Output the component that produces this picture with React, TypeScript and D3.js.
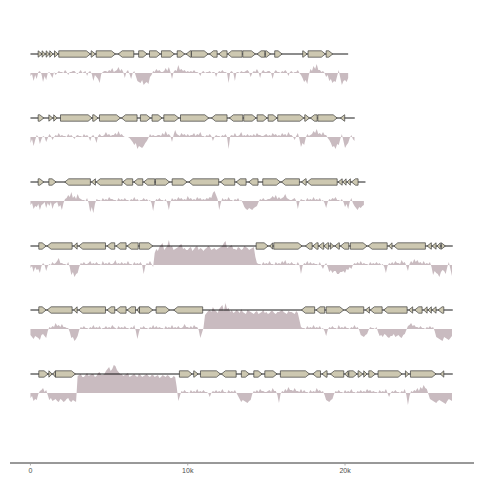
import React from "react";
import * as d3 from "d3";

// sequence lengths (kb)
const trackLengths = [20.2, 20.62, 21.3, 26.85, 26.85, 26.85];
const BIN = 0.1; // kb per GC window

// genes: [start kb, end kb, strand]
const genes1: [number, number, number][] = [
  [0.49, 0.74, 1], [0.74, 0.95, 1], [1.0, 1.21, 1], [1.23, 1.44, 1], [1.53, 1.76, 1],
  [1.8, 3.81, 1], [3.86, 4.13, 1], [4.18, 5.4, 1], [5.58, 6.57, -1], [6.88, 7.42, 1],
  [7.57, 8.26, 1], [8.33, 9.15, 1], [9.33, 9.81, 1], [9.9, 10.22, -1], [10.24, 11.3, 1],
  [11.38, 11.87, -1], [11.97, 12.5, -1], [12.54, 13.46, -1], [13.5, 14.3, 1], [14.41, 14.9, -1],
  [14.94, 15.26, 1], [15.53, 16.0, 1], [17.31, 17.59, 1], [17.65, 18.75, 1], [18.8, 19.22, 1],
];
const genes2: [number, number, number][] = [
  [0.49, 0.85, 1], [1.17, 1.42, 1], [1.48, 1.7, 1], [1.91, 3.92, 1], [3.96, 4.3, 1],
  [4.39, 5.72, 1], [5.79, 6.78, -1], [6.99, 7.63, 1], [7.73, 8.37, 1], [8.48, 9.43, 1],
  [9.54, 11.34, 1], [11.51, 12.5, -1], [12.65, 13.5, -1], [13.56, 14.35, 1], [14.41, 15.05, 1],
  [15.11, 15.68, 1], [15.72, 17.38, 1], [17.44, 17.74, 1], [17.8, 18.23, -1], [18.27, 19.5, 1],
  [19.71, 19.98, -1],
];
const genes3: [number, number, number][] = [
  [0.49, 0.85, 1], [1.17, 1.63, 1], [2.18, 3.81, -1], [3.88, 4.13, -1], [4.18, 5.83, -1],
  [5.87, 6.5, -1], [6.57, 7.14, -1], [7.2, 7.9, -1], [7.95, 8.84, 1], [9.01, 9.96, 1],
  [10.07, 11.97, -1], [12.08, 12.99, -1], [13.08, 13.71, -1], [13.88, 14.47, -1], [14.77, 15.89, 1],
  [15.96, 17.1, -1], [17.23, 17.53, -1], [17.59, 19.5, -1], [19.56, 19.82, -1], [19.86, 20.07, -1],
  [20.13, 20.34, -1], [20.41, 20.83, -1],
];
const genes4: [number, number, number][] = [
  [0.53, 1.0, 1], [1.06, 2.65, -1], [2.75, 2.97, -1], [3.07, 4.77, -1], [4.87, 5.36, -1],
  [5.45, 6.08, -1], [6.15, 6.85, -1], [6.93, 7.78, 1], [14.35, 15.11, 1], [15.22, 15.4, -1],
  [15.47, 17.27, 1], [17.48, 17.91, -1], [17.95, 18.29, -1], [18.33, 18.65, -1], [18.65, 18.96, -1],
  [19.07, 19.28, 1], [19.35, 19.64, -1], [19.71, 20.24, -1], [20.34, 21.4, 1], [21.47, 22.68, -1],
  [22.78, 22.99, -1], [23.1, 25.11, -1], [25.22, 25.49, -1], [25.54, 25.79, -1], [25.85, 26.06, -1],
  [26.13, 26.38, 1],
];
const genes5: [number, number, number][] = [
  [0.53, 1.0, 1], [1.06, 2.65, -1], [2.75, 2.97, -1], [3.07, 4.77, -1], [4.87, 5.36, -1],
  [5.45, 6.08, -1], [6.15, 6.68, -1], [6.78, 6.93, -1], [6.93, 7.78, 1], [7.99, 8.84, 1],
  [9.11, 10.95, -1], [17.23, 18.07, -1], [18.16, 18.71, -1], [18.8, 19.92, 1], [20.03, 21.19, -1],
  [21.3, 21.55, -1], [21.61, 22.36, -1], [22.46, 23.95, -1], [24.05, 24.3, -1], [24.43, 24.9, -1],
  [25.0, 25.22, -1], [25.28, 25.49, -1], [25.54, 25.79, -1], [25.92, 26.28, -1],
];
const genes6: [number, number, number][] = [
  [0.53, 1.12, 1], [1.17, 1.38, 1], [1.42, 1.59, -1], [1.59, 2.86, 1], [9.47, 10.28, 1],
  [10.38, 10.66, 1], [10.81, 12.08, 1], [12.14, 13.08, -1], [13.41, 13.92, 1], [14.2, 14.73, 1],
  [14.9, 15.68, 1], [15.89, 17.74, 1], [17.95, 18.44, -1], [18.54, 18.86, -1], [19.07, 19.92, -1],
  [19.98, 20.2, -1], [20.24, 20.77, 1], [20.83, 21.13, 1], [21.19, 21.4, 1], [21.51, 21.93, 1],
  [22.1, 23.63, 1], [23.84, 24.05, 1], [24.16, 25.79, 1], [26.06, 26.28, -1],
];

// GC deviation per 100 bp window
const gc1 = [
  -3, -1, -8, -2, -6, 1, 2, -1, -9, -3, -7, 0, 1, -2, -5, 1, -2, 0, 2, 1,
  1, 0, 3, 1, -2, 1, 1, 2, 2, 0, -1, 1, 3, 0, 1, 2, -3, 1, 2, -1,
  -8, -2, -4, -6, -10, -1, 1, 2, 2, 1, 3, 2, 5, 1, 2, 3, 6, 2, 4, 1,
  -5, 1, 3, -1, -6, 0, 2, -3, -8, -9, -10, -7, -12, -10, -9, -11, -4, -2, 2, 1,
  4, 2, 3, 1, 1, 2, 5, 2, 6, 1, -6, 1, 3, 2, 8, 3, 4, 2, 3, 1,
  2, 1, 2, 1, 3, 1, 1, 0, -3, 1, 2, 0, 1, 1, 2, 0, 1, 1, -4, 0,
  2, 1, 3, 1, 1, 0, -10, 1, 2, 0, -8, 1, 1, 0, 2, 1, 1, 2, 3, 1,
  -4, 0, 2, 1, 4, 1, -5, 1, 3, 1, 1, 2, 2, 0, -6, 1, 3, 1, 1, 0,
  2, 1, 3, 1, -3, 1, 2, 0, 1, 1, 3, 0, -2, -5, -9, -7, -11, -2, 4, 2,
  7, 4, 9, 3, 3, 1, 2, 0, -4, -2, -8, -6, -10, -8, -9, -3, 3, -5, -12, -8,
  -7, -9, -5,
];
const gc2 = [
  -6, -2, -9, -3, 2, 0, -7, -2, 1, 0, -5, -1, 3, 1, -3, 0, 2, 1, 4, 1,
  2, 1, 1, 0, 3, 1, 2, 0, -2, 1, 2, 1, 1, 0, 3, 1, 2, 0, -4, 1,
  2, -1, -6, 1, 3, 1, 1, 2, 5, 2, 3, 1, 2, 2, 4, 2, 6, 2, 3, 1,
  0, 0, 0, -1, -3, -5, -8, -6, -12, -9, -10, -11, -9, -6, -4, -1, 3, 1, 2, 1,
  1, 2, 2, 1, 4, 2, 6, 2, 3, 1, -5, 2, 7, 3, 2, 1, 4, 2, 3, 1,
  3, 1, 2, 2, 4, 1, 3, 2, 5, 1, 1, 0, 2, 1, 3, 1, -4, 0, 2, 1,
  1, 0, 2, 1, 3, 0, -12, 1, 2, 1, 4, 1, 1, 2, 5, 1, 2, 1, 3, 1,
  2, 1, 3, 1, 4, 2, 2, 1, 1, 2, 3, 1, 2, 1, 4, 2, 3, 1, 2, 1,
  4, 2, 3, 1, 5, 2, 2, 0, -3, 1, 4, -2, -10, -6, -8, -1, 3, 1, 2, 3,
  6, 4, 8, 3, 4, 2, 5, 2, 2, -1, -3, -6, -10, -9, -12, -7, -8, -2, 3, -4,
  -11, -8, -6, -1, 2, -2, -4,
];
const gc3 = [
  -4, -2, -8, -5, -6, -3, -9, -4, -3, -1, -7, -2, -5, -1, -8, -3, -2, -1, -6, -4,
  -9, -2, 2, 3, 6, 4, 9, 3, 5, 2, 7, 3, 2, 1, 1, 0, 3, -2, -11, -6,
  -12, -3, 2, 1, 1, 0, 3, 1, 2, 1, 4, 2, 2, 1, 1, 0, 3, 1, 2, 1,
  3, 1, 1, 0, 2, 1, 4, 1, 2, 0, 1, 1, 3, 1, 2, 0, 1, -2, -10, -1,
  2, 1, 3, 1, 1, 0, 2, -2, -9, -1, 3, 1, 2, 1, 4, 2, 3, 1, 2, 1,
  5, 2, 3, 1, 2, 1, 4, 2, 3, 1, 2, 1, 3, 2, 4, 3, 8, 10, 6, 2,
  -9, -2, 3, 1, 2, 1, 4, 1, 1, 0, 2, 1, 3, 0, 1, -2, -6, -8, -9, -7,
  -8, -9, -7, -6, -5, -1, 2, 1, 3, 1, 1, 2, 2, 3, 5, 3, 6, 2, 4, 2,
  3, 4, 7, 3, 2, 1, 1, 2, 3, 0, -8, -1, 2, 1, 1, 0, 3, 1, 2, 1,
  4, 1, 2, 1, 3, 0, 1, -2, -7, -1, 2, 1, 3, 2, 4, 1, 1, 0, 2, -1,
  -6, -3, -8, -1, 3, -2, -5, -7, -9, -6, -7, -5, -4,
];
const gc4 = [
  -3, -1, -7, -2, -5, -4, -8, -1, 2, 0, -6, -1, 1, 0, 3, 1, 2, 4, 7, 2,
  2, 1, 1, 0, 3, -2, -10, -7, -12, -9, -8, -2, 2, 1, 3, 1, 1, 2, 4, 1,
  2, 1, 3, 1, 1, 0, 4, 1, 2, 1, 3, 1, 1, 2, 5, 1, 2, 1, 3, 1,
  2, 1, 4, 1, 1, 0, 3, 1, 2, 1, 3, 0, -9, -1, 2, 1, 4, 1, -2, 12,
  16, 14, 18, 20, 22, 15, 17, 19, 25, 18, 19, 15, 16, 17, 18, 20, 21, 16, 17, 15,
  15, 17, 18, 14, 16, 18, 19, 15, 17, 16, 14, 16, 17, 19, 18, 15, 16, 17, 15, 16,
  17, 18, 19, 22, 24, 17, 18, 19, 20, 16, 16, 15, 18, 17, 15, 16, 19, 18, 17, 15,
  16, 17, 18, 8, 2, 1, 1, 0, 3, 1, 2, 1, 4, 1, 1, 0, 3, 1, 2, 1,
  4, 2, 5, 1, 2, 1, 3, 1, 1, 0, 3, 0, -9, -1, 2, 1, 4, 1, 3, 1,
  2, 1, 1, 0, 3, -1, -4, 0, 2, -2, -7, -5, -8, -6, -6, -9, -9, -7, -7, -6,
  -8, -4, -5, -2, -4, 0, 2, 1, 3, 1, 4, 1, 2, 1, 1, 0, 3, 1, 2, 1,
  3, 1, 2, 0, 1, -2, -8, -1, 2, 1, 3, 1, 4, 2, 2, 1, 5, 2, 3, -1,
  -6, 1, 4, 2, 6, 3, 5, 2, 3, 1, 4, 1, 2, 1, 3, -2, -10, -6, -8, -9,
  -12, -7, -5, -6, -9, -2, 3, -4, -11,
];
const gc5 = [
  -6, -8, -10, -7, -8, -9, -11, -6, -5, -7, -9, -2, 2, 1, 3, 2, 6, 3, 4, 2,
  5, 2, 2, 1, 1, -3, -9, -8, -12, -10, -7, -1, 2, 1, 3, 1, 1, 0, 2, 1,
  4, 1, 2, 1, 3, 0, 1, 1, 3, 1, 2, 1, 4, 2, 1, 0, 3, 1, 2, 1,
  3, 1, 1, 0, 2, 1, 4, -2, -10, -3, 2, 1, 3, 1, 1, 0, 2, 1, 4, 1,
  3, 1, 2, 1, 1, 0, 3, 1, 2, 1, 4, 1, 2, 1, 3, 1, 1, 2, 5, 2,
  2, 1, 3, 1, 4, 2, 2, -1, -9, -4, 1, 14, 16, 18, 19, 17, 22, 19, 18, 16,
  20, 22, 24, 18, 26, 20, 21, 17, 19, 16, 17, 19, 18, 16, 20, 17, 16, 15, 19, 18,
  17, 16, 15, 17, 18, 15, 16, 17, 19, 16, 17, 15, 16, 18, 18, 16, 15, 17, 17, 18,
  19, 17, 16, 15, 18, 17, 17, 16, 15, 18, 16, 9, 2, 1, 1, 0, 3, 1, 2, 1,
  4, 1, 2, 1, 3, 0, 1, -2, -7, -1, 2, 1, 3, 1, 1, 0, 4, 1, 2, 1,
  3, 1, 1, 0, 2, 1, 4, 1, 2, -1, -6, -7, -8, -6, -5, -1, 2, 1, 1, 0,
  2, -3, -7, -6, -8, -5, -6, -8, -9, -7, -7, -5, -8, -7, -6, -8, -9, -6, -5, -1,
  3, 4, 6, 3, 4, 2, 2, 1, 3, 1, 1, 0, 2, 1, 3, 1, 2, -2, -8, -9,
  -10, -11, -12, -8, -9, -10, -11, -9, -7,
];
const gc6 = [
  -5, -3, -8, -6, -7, -1, 2, 3, 5, 1, 3, -2, -7, -5, -8, -7, -6, -8, -9, -6,
  -7, -9, -8, -6, -5, -8, -9, -7, -8, -9, 17, 18, 19, 16, 16, 18, 20, 17, 18, 19,
  19, 16, 17, 20, 21, 18, 18, 19, 22, 24, 26, 22, 24, 28, 27, 23, 21, 19, 19, 17,
  18, 19, 20, 16, 17, 18, 19, 17, 16, 19, 18, 16, 17, 18, 19, 17, 16, 18, 18, 16,
  17, 18, 15, 16, 18, 17, 16, 18, 17, 15, 15, 17, 16, 6, -8, -3, 2, 1, 3, 1,
  1, 0, 3, 1, 2, 1, 4, 1, 2, 1, 3, 1, 1, 0, -4, 0, 2, 1, 3, 1,
  2, 1, 4, 1, 1, 0, 3, 1, 2, 1, 3, 0, -3, -6, -9, -7, -8, -9, -10, -8,
  -7, -1, 2, 1, 3, 1, 4, 2, 2, 1, 1, 2, 3, 1, 5, 2, 2, -2, -10, -1,
  2, 1, 4, 2, 6, 3, 3, 2, 5, 2, 2, 1, 4, 1, 3, 1, 1, 0, 3, 1,
  2, 1, 5, 2, 3, 1, 2, -2, -7, -8, -9, -7, -6, -1, 2, 1, 3, 1, 1, 0,
  3, 1, 2, 1, 4, 1, 1, 0, 2, 1, 3, 1, 2, 1, 4, 2, 3, 1, 2, 1,
  1, 0, 3, 1, 2, 1, 4, 0, -4, 0, 2, 1, 3, 1, 1, 0, 2, 1, 4, -2,
  -12, -3, 2, 1, 3, 2, 5, 2, 6, 4, 8, 5, 4, -1, -6, -7, -8, -9, -10, -8,
  -7, -8, -9, -10, -11, -8, -6, -7, -8,
];

const geneSets = [genes1, genes2, genes3, genes4, genes5, genes6];
const gcSets = [gc1, gc2, gc3, gc4, gc5, gc6];

const tickValues = [0, 10, 20];
const tickLabels = ["0", "10k", "20k"];

export default function App() {
  const W = 480;
  const H = 480;
  const x = d3.scaleLinear().domain([-1.3, 28.2]).range([10, 474]);
  const y = d3
    .scalePoint<number>()
    .domain(d3.range(trackLengths.length))
    .range([54, 374]);
  const gcOffset = d3.scaleLinear().domain([0, 10]).range([0, 10]);
  const GC_SHIFT = 19;
  const geneHalf = 3.2;
  const head = 4;

  const genePath = (s: number, e: number, strand: number, yc: number) => {
    const x0 = x(s);
    const x1 = x(e);
    const h = Math.min(head, x1 - x0);
    if (strand > 0) {
      return `M${x0},${yc - geneHalf}L${x1 - h},${yc - geneHalf}L${x1},${yc}L${x1 - h},${yc + geneHalf}L${x0},${yc + geneHalf}Z`;
    }
    return `M${x1},${yc - geneHalf}L${x0 + h},${yc - geneHalf}L${x0},${yc}L${x0 + h},${yc + geneHalf}L${x1},${yc + geneHalf}Z`;
  };

  return (
    <svg
      width={W}
      height={H}
      style={{ position: "absolute", left: 0, top: 0, background: "#fff" }}
      fontFamily="Liberation Sans, Arial, sans-serif"
    >
      {trackLengths.map((len, ti) => {
        const yc = y(ti) as number;
        const base = yc + GC_SHIFT;
        const pts = gcSets[ti].map((v, i) => [Math.min(i * BIN, len), v] as [number, number]);
        const area = d3
          .area<[number, number]>()
          .x((d) => x(d[0]))
          .y0(base)
          .y1((d) => base - gcOffset(d[1]))
          .curve(d3.curveLinear);
        return (
          <g key={ti}>
            <path d={area(pts) || ""} fill="#c9bbc0" stroke="none" />
            <line x1={x(0)} x2={x(len)} y1={yc} y2={yc} stroke="#000" strokeWidth={0.9} />
            {geneSets[ti].map((g, gi) => (
              <path
                key={gi}
                d={genePath(g[0], g[1], g[2], yc)}
                fill="#cdc8b1"
                stroke="#333"
                strokeWidth={0.65}
                strokeLinejoin="round"
              />
            ))}
          </g>
        );
      })}
      <g>
        <line x1={10} x2={474} y1={463} y2={463} stroke="#333" strokeWidth={1} />
        {tickValues.map((t, i) => (
          <g key={t} transform={`translate(${x(t)},463)`}>
            <line y1={0} y2={2.5} stroke="#999" strokeWidth={0.8} />
            <text y={10} textAnchor="middle" fontSize={7} fill="#4d4d4d">
              {tickLabels[i]}
            </text>
          </g>
        ))}
      </g>
    </svg>
  );
}
